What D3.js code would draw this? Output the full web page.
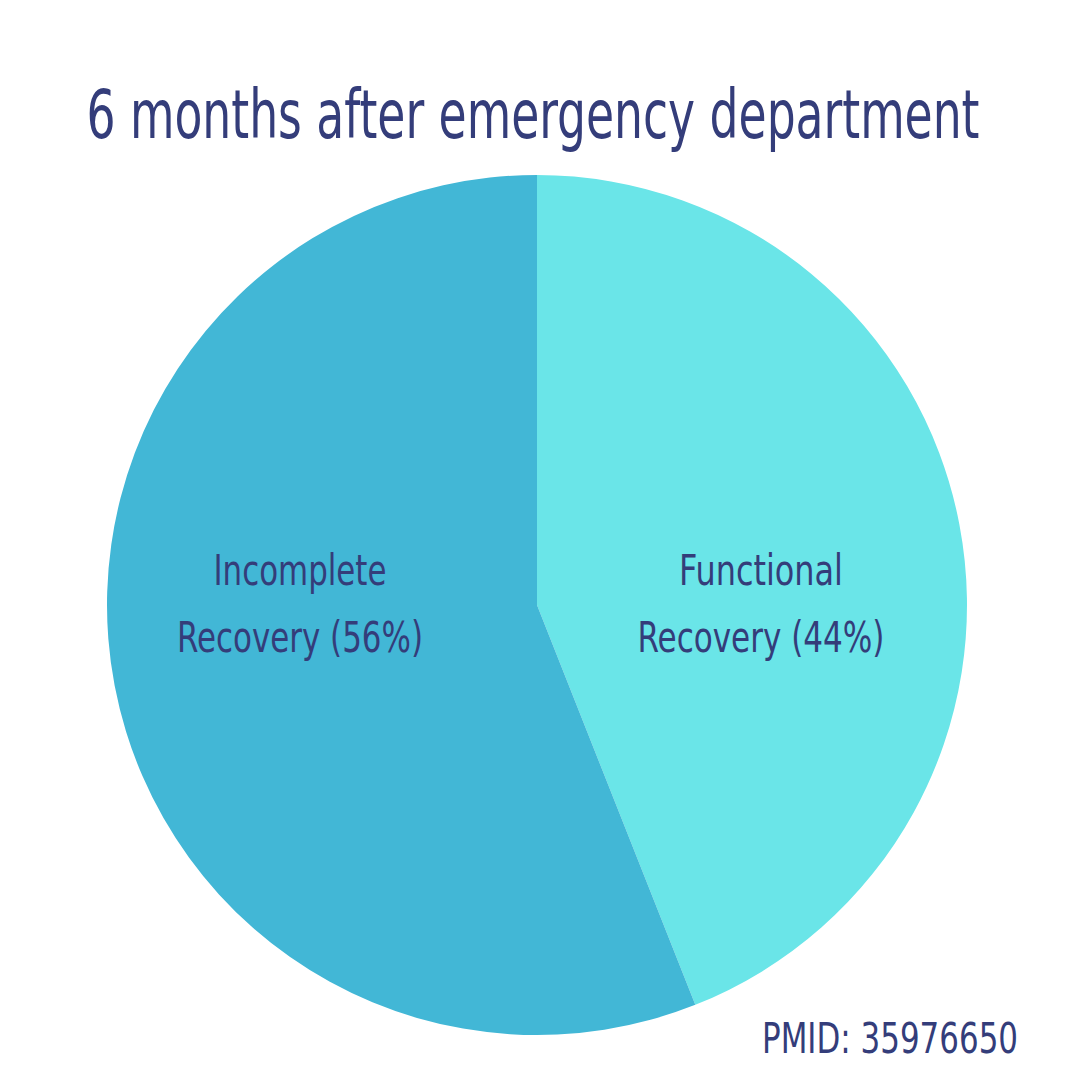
<!DOCTYPE html>
<html><head><meta charset="utf-8">
<script src="https://cdn.jsdelivr.net/npm/d3@7"></script>
<style>body{margin:0;background:#fff}text{font-family:"Liberation Sans Narrow","DejaVu Sans Condensed",sans-serif;fill:#343d7a}</style>
</head><body>
<svg id="c" width="1080" height="1080"></svg>
<script>
const categories = ["Functional Recovery", "Incomplete Recovery"];
const values = [44, 56];
const labelLines = [["Functional", "Recovery (44%)"], ["Incomplete", "Recovery (56%)"]];
const colors = ["#6ae5e8", "#42b7d6"];
const title = "6 months after emergency department";
const source = "PMID: 35976650";

const svg = d3.select("#c");
const cx = 537, cy = 605, r = 430;
const pie = d3.pie().sort(null).value(d => d)(values);
const arc = d3.arc().innerRadius(0).outerRadius(r);
const g = svg.append("g").attr("transform", `translate(${cx},${cy})`);
g.selectAll("path").data(pie).join("path").attr("d", arc).attr("fill", (d, i) => colors[i]);
const labelX = [224, -237];
const widths = [[164, 247], [173, 246]];
g.selectAll("text.l").data(pie).join("text").attr("class", "l")
  .attr("text-anchor", "middle").attr("font-size", 42)
  .attr("transform", (d, i) => `translate(${labelX[i]},0)`)
  .each(function (d, i) {
    const t = d3.select(this);
    t.append("tspan").attr("x", 0).attr("y", -20).attr("textLength", widths[i][0])
      .attr("lengthAdjust", "spacingAndGlyphs").text(labelLines[i][0]);
    t.append("tspan").attr("x", 0).attr("y", 47).attr("textLength", widths[i][1])
      .attr("lengthAdjust", "spacingAndGlyphs").text(labelLines[i][1]);
  });
svg.append("text").attr("x", 533).attr("y", 138).attr("text-anchor", "middle")
  .attr("font-size", 68).attr("textLength", 893).attr("lengthAdjust", "spacingAndGlyphs").text(title);
svg.append("text").attr("x", 1018).attr("y", 1053).attr("text-anchor", "end")
  .attr("font-size", 42).attr("textLength", 256).attr("lengthAdjust", "spacingAndGlyphs").text(source);
</script>
</body></html>
